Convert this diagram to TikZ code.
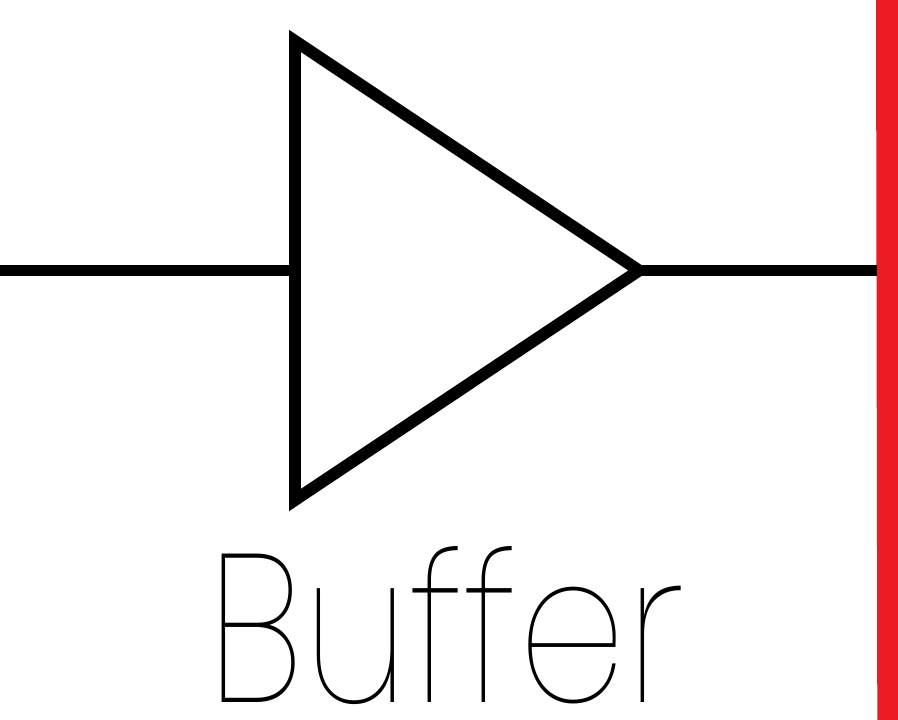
\documentclass[tikz,border=0pt]{standalone}
\usepackage{fontspec}
\setmainfont{Poppins}[UprightFont=* Thin, Ligatures=NoCommon, FakeStretch=0.815]
\usepackage{tikz}
\definecolor{barred}{HTML}{ED1C24}
\tikzset{wire/.style={line width=3.05pt}, gate/.style={line width=3.4pt, miter limit=10, line join=miter}}
\begin{document}
\begin{tikzpicture}
		\useasboundingbox (0,0) rectangle (8.98,7.2);
		\fill [barred] (8.773,0) -- (8.76,7.2) -- (8.98,7.2) -- (8.98,0) -- cycle;
		\coordinate (A) at (2.95,6.79);
		\coordinate (B) at (2.95,2.2);
		\coordinate (C) at (6.39,4.495);
		\coordinate (I) at (0,4.495);
		\coordinate (O) at (8.77,4.495);
		\coordinate (G) at (2.95,4.495);
		\draw [wire](I)--(G); \draw [wire](C)--(O);
		\draw [gate] (A)--(B)--(C)--cycle;
		\node [inner sep=0pt] (L) at (4.46,0.94) {\fontsize{60}{60}\selectfont Buffer};
		\end{tikzpicture}
\end{document}
